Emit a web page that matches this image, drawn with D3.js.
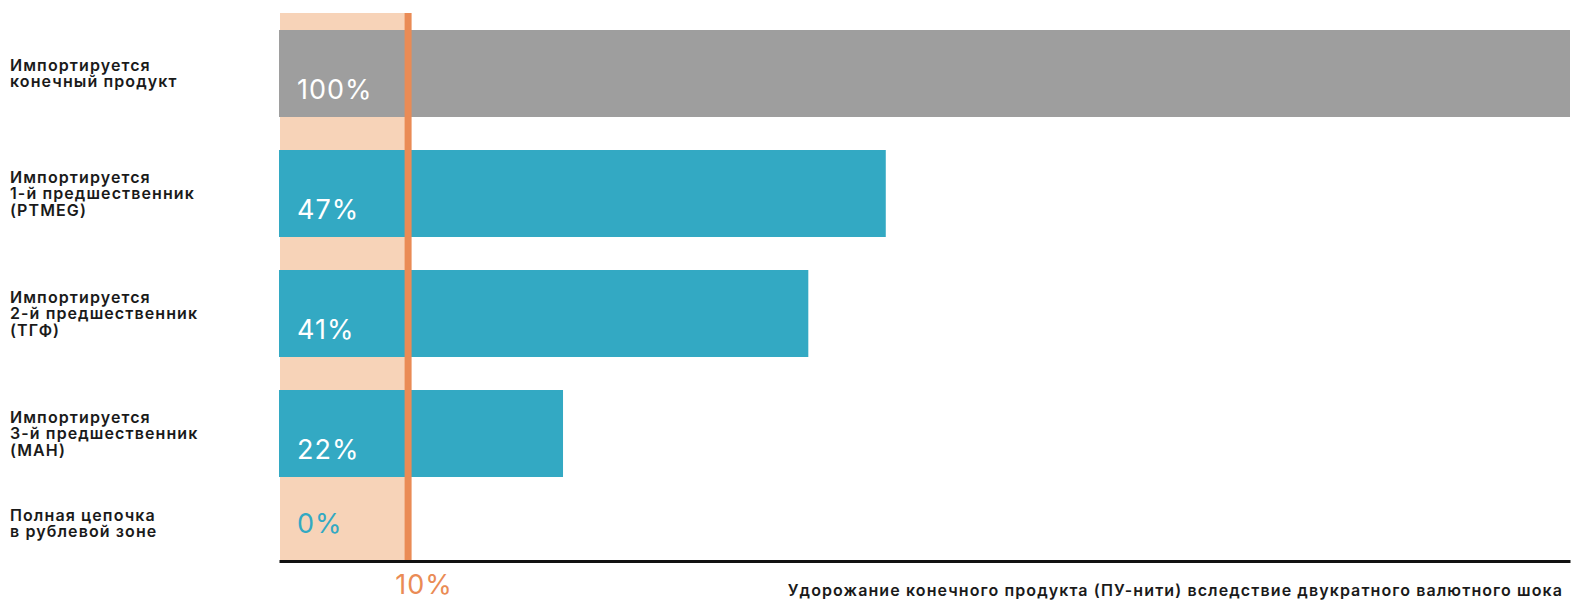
<!DOCTYPE html>
<html>
<head>
<meta charset="utf-8">
<script src="https://cdn.jsdelivr.net/npm/d3@7"></script>
<style>
  html, body { margin: 0; padding: 0; background: #fff; }
  svg { display: block; }
</style>
</head>
<body>
<svg id="chart" width="1572" height="600"></svg>
<script>
// Row labels (multi-line), one per category
const categories = ["final", "prec1", "prec2", "prec3", "ruble"];
const rowLabels = [
  ["Импортируется", "конечный продукт"],
  ["Импортируется", "1-й предшественник", "(PTMEG)"],
  ["Импортируется", "2-й предшественник", "(ТГФ)"],
  ["Импортируется", "3-й предшественник", "(МАН)"],
  ["Полная цепочка", "в рублевой зоне"]
];
// Price increase of the final product, %
const values = [100, 47, 41, 22, 0];
const threshold = 10;
const thresholdLabel = "10%";
const axisTitle = "Удорожание конечного продукта (ПУ-нити) вследствие двукратного валютного шока";

const colors = {
  band: "#F7D3B8",
  line: "#EA8B55",
  gray: "#9E9E9E",
  teal: "#33A9C3",
  text: "#1a1a1a"
};

const svg = d3.select("#chart");
const margin = { top: 30, left: 279, right: 2 };
const axisY = 561;
const W = 1572;
const step = 120, pad = 0.275;

const x = d3.scaleLinear().domain([0, 100]).range([margin.left, W - margin.right]);
const y = d3.scaleBand()
  .domain(categories)
  .range([margin.top, margin.top + step * (categories.length - pad)])
  .paddingInner(pad)
  .paddingOuter(0);

// The last row has no bar; it sits between the previous bar and the axis
function rowCenter(c, i) {
  if (i === categories.length - 1) {
    const prev = categories[i - 1];
    return (y(prev) + y.bandwidth() + axisY) / 2 + 4;
  }
  return y(c) + y.bandwidth() / 2;
}

const fontLabel = "Inter, 'Noto Sans', sans-serif";

// Shaded zone 0..threshold
svg.append("rect")
  .attr("x", x(0) + 1)
  .attr("y", 13)
  .attr("width", x(threshold) - x(0) - 1)
  .attr("height", axisY - 13)
  .attr("fill", colors.band);

// Bars
svg.append("g").selectAll("rect")
  .data(categories.map((c, i) => ({ c, v: values[i], i })))
  .join("rect")
  .attr("x", x(0))
  .attr("y", d => y(d.c))
  .attr("width", d => x(d.v) - x(0))
  .attr("height", y.bandwidth())
  .attr("fill", d => d.i === 0 ? colors.gray : colors.teal);

// Threshold line
svg.append("line")
  .attr("x1", x(threshold)).attr("x2", x(threshold))
  .attr("y1", 13).attr("y2", axisY)
  .attr("stroke", colors.line)
  .attr("stroke-width", 7);

// Value labels
svg.append("g").selectAll("text")
  .data(categories.map((c, i) => ({ c, v: values[i], i })))
  .join("text")
  .attr("x", x(0) + 18)
  .attr("y", d => d.v > 0 ? y(d.c) + y.bandwidth() - 18.5 : rowCenter(d.c, d.i) + 9.5)
  .attr("fill", d => d.v > 0 ? "#fff" : colors.teal)
  .attr("font-family", fontLabel)
  .attr("font-size", 27)
  .attr("font-weight", 400)
  .attr("letter-spacing", 1)
  .text(d => d.v + "%");

// Row labels
const lineH = 16.3;
const rows = svg.append("g").selectAll("text")
  .data(categories.map((c, i) => ({ c, lines: rowLabels[i], i })))
  .join("text")
  .attr("font-family", fontLabel)
  .attr("font-size", 16)
  .attr("font-weight", 600)
  .attr("letter-spacing", 1.1)
  .attr("fill", colors.text)
  .attr("x", 10)
  .attr("y", d => {
    const capH = 11.5;
    const blockH = capH + lineH * (d.lines.length - 1);
    return rowCenter(d.c, d.i) - blockH / 2 + capH;
  });
rows.selectAll("tspan")
  .data(d => d.lines)
  .join("tspan")
  .attr("x", 10)
  .attr("dy", (d, i) => i === 0 ? 0 : lineH)
  .text(d => d);

// X axis baseline
const xAxis = d3.axisBottom(x).tickValues([]).tickSize(0);
svg.append("g")
  .attr("transform", `translate(0,${axisY})`)
  .call(xAxis)
  .call(g => g.select(".domain").attr("stroke", "#111").attr("stroke-width", 3));

// Threshold tick label
svg.append("text")
  .attr("x", x(threshold) + 16)
  .attr("y", 594)
  .attr("text-anchor", "middle")
  .attr("fill", colors.line)
  .attr("font-family", fontLabel)
  .attr("font-size", 27)
  .attr("letter-spacing", 1)
  .text(thresholdLabel);

// Axis title
svg.append("text")
  .attr("x", 1563)
  .attr("y", 596)
  .attr("text-anchor", "end")
  .attr("fill", colors.text)
  .attr("font-family", fontLabel)
  .attr("font-size", 16)
  .attr("font-weight", 600)
  .attr("letter-spacing", 1.1)
  .text(axisTitle);
</script>
</body>
</html>
